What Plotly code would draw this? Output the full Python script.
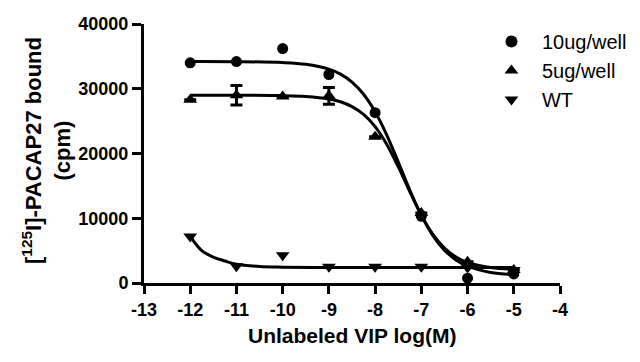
import plotly.graph_objects as go

# ---- data ----
log_conc = [-12, -11, -10, -9, -8, -7, -6, -5]

ug10_vals = [34000, 34200, 36200, 32200, 26300, 10300, 750, 1400]
ug5_vals = [28300, 29000, 28800, 28900, 22600, 10800, 3300, 2000]
ug5_err = [0, 1500, 0, 1300, 0, 0, 0, 0]
wt_vals = [7200, 2600, 4300, 2500, 2500, 2500, 2400, 2000]

# fitted curves
fit_x = [-12, -11, -10, -9.5, -9, -8.75, -8.5, -8.25, -8, -7.75, -7.5, -7.25,
         -7, -6.75, -6.5, -6.25, -6, -5.5, -5]
ug10_fit = [34200, 34180, 34050, 33780, 33030, 32260, 31030, 29150, 26450, 22890,
            18700, 14360, 10450, 7330, 5070, 3560, 2600, 1630, 1290]
ug5_fit = [29000, 29000, 28940, 28810, 28420, 27990, 27250, 26040, 24150, 21440,
           17960, 14110, 10470, 7520, 5410, 4030, 3180, 2380, 2120]

wt_fit_x = [-12, -11.75, -11.5, -11.25, -11, -10.5, -10, -9, -8, -7, -6, -5]
wt_fit = [7200, 5000, 4000, 3400, 2900, 2550, 2450, 2400, 2400, 2400, 2400, 2400]

x_tick_vals = [-13, -12, -11, -10, -9, -8, -7, -6, -5, -4]
x_tick_text = ["-13", "-12", "-11", "-10", "-9", "-8", "-7", "-6", "-5", "-4"]
y_tick_vals = [0, 10000, 20000, 30000, 40000]
y_tick_text = ["0", "10000", "20000", "30000", "40000"]

series_names = ["10ug/well", "5ug/well", "WT"]
x_title = "Unlabeled VIP log(M)"
y_title = "[<sup>125</sup>I]-PACAP27 bound<br>(cpm)"

FONT = "Liberation Sans, Arial, sans-serif"
BLACK = "#000000"

fig = go.Figure()

# fit curves
for fx, fy in [(fit_x, ug10_fit), (fit_x, ug5_fit), (wt_fit_x, wt_fit)]:
    fig.add_trace(go.Scatter(x=fx, y=fy, mode="lines", line=dict(color=BLACK, width=3, shape="spline"),
                             showlegend=False, hoverinfo="skip"))

fig.add_trace(go.Scatter(x=log_conc, y=ug10_vals, mode="markers", name=series_names[0],
                         marker=dict(symbol="circle", size=11, color=BLACK)))
fig.add_trace(go.Scatter(x=log_conc, y=ug5_vals, mode="markers", name=series_names[1],
                         marker=dict(symbol="triangle-up", size=12, color=BLACK),
                         error_y=dict(type="data", array=ug5_err, color=BLACK, thickness=3, width=6)))
fig.add_trace(go.Scatter(x=log_conc, y=wt_vals, mode="markers", name=series_names[2],
                         marker=dict(symbol="triangle-down", size=12, color=BLACK)))

fig.update_layout(
    width=640, height=362,
    margin=dict(l=136, r=88, t=16, b=87),
    paper_bgcolor="white", plot_bgcolor="white",
    font=dict(family=FONT, color=BLACK),
    showlegend=True,
    legend=dict(x=0.81, y=1.008, xanchor="left", yanchor="top",
                font=dict(family=FONT, size=20, color=BLACK),
                bgcolor="rgba(0,0,0,0)", itemsizing="constant", itemwidth=51),
    xaxis=dict(range=[-13, -4], tickvals=x_tick_vals, ticktext=x_tick_text, automargin=False,
               showgrid=False, zeroline=False, showline=True, linecolor=BLACK, linewidth=3,
               ticks="outside", ticklen=8, tickwidth=3, tickcolor=BLACK,
               tickfont=dict(family=FONT, size=18, weight="bold", color=BLACK)),
    yaxis=dict(range=[0, 40000], tickvals=y_tick_vals, ticktext=y_tick_text, automargin=False,
               showgrid=False, zeroline=False, showline=True, linecolor=BLACK, linewidth=3,
               ticks="outside", ticklen=9, tickwidth=3, tickcolor=BLACK,
               tickfont=dict(family=FONT, size=18, weight="bold", color=BLACK)),
    annotations=[
        dict(text=x_title, xref="paper", yref="paper", x=0.5, y=-0.2008,
             xanchor="center", yanchor="middle", showarrow=False,
             font=dict(family=FONT, size=21, weight="bold", color=BLACK)),
        dict(text=y_title, xref="paper", yref="paper", x=-0.233, y=0.51,
             xanchor="center", yanchor="middle", textangle=-90, showarrow=False,
             font=dict(family=FONT, size=22, weight="bold", color=BLACK)),
    ],
)

fig.write_html("out.html")
